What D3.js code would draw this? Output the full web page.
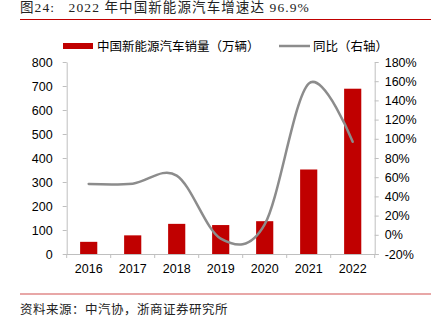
<!DOCTYPE html>
<html><head><meta charset="utf-8">
<script src="https://cdn.jsdelivr.net/npm/d3@7"></script>
<style>body{margin:0;background:#fff}svg{display:block}</style>
</head><body>
<svg id="c" width="431" height="325"></svg>
<script>
const categories = ["2016","2017","2018","2019","2020","2021","2022"];
const sales = [50.7, 77.7, 125.6, 120.6, 136.7, 352.1, 688.7];
const yoy = [53.0, 53.3, 61.7, -4.0, 10.9, 157.5, 96.9];
const leftTicks = [0,100,200,300,400,500,600,700,800];
const rightTicks = [-20,0,20,40,60,80,100,120,140,160,180];
const title = "图24:   2022 年中国新能源汽车增速达 96.9%";
const legendLabels = ["中国新能源汽车销量（万辆）", "同比（右轴）"];
const source = "资料来源：中汽协，浙商证券研究所";

const svg = d3.select("#c");
const L = 66.7, R = 374.7, T = 62, B = 254;
const sansCJK = "'Noto Sans CJK SC', 'Noto Sans', sans-serif";
const serif = "'Liberation Serif', 'Noto Sans CJK SC', serif";
const axisFont = "'Liberation Sans', Arial, sans-serif";

const x = d3.scaleBand().domain(categories).range([L, R]).paddingInner(0.61).paddingOuter(0.305);
const xb = d3.scaleBand().domain(categories).range([L, R]);
const yL = d3.scaleLinear().domain([0, 800]).range([B, T]);
const yR = d3.scaleLinear().domain([-20, 180]).range([B, T]);

// title
svg.append("text").attr("x", 20).attr("y", 12).attr("font-family", serif).attr("font-size", 13.5)
  .attr("fill", "#222").attr("letter-spacing", 1.1).attr("xml:space","preserve").text(title);
svg.append("line").attr("x1", 20).attr("x2", 431).attr("y1", 19.5).attr("y2", 19.5)
  .attr("stroke", "#c00000").attr("stroke-width", 1);

// bars
svg.append("g").selectAll("rect").data(categories).join("rect")
  .attr("x", d => x(d)).attr("width", x.bandwidth())
  .attr("y", (d,i) => yL(sales[i])).attr("height", (d,i) => yL(0) - yL(sales[i]))
  .attr("fill", "#c00000");

// axes
const axisColor = "#bfbfbf";
function styleAxis(g){
  g.select(".domain").attr("stroke", axisColor);
  g.selectAll(".tick line").attr("stroke", axisColor);
  g.selectAll(".tick text").attr("fill", "#000").attr("font-family", axisFont).attr("font-size", 12.5);
}
const gl = svg.append("g").attr("transform", `translate(${L},0)`)
  .call(d3.axisLeft(yL).tickValues(leftTicks).tickSize(4).tickSizeOuter(0).tickPadding(10));
styleAxis(gl);
const gr = svg.append("g").attr("transform", `translate(${R},0)`)
  .call(d3.axisRight(yR).tickValues(rightTicks).tickSize(4).tickSizeOuter(0).tickFormat(d => d + "%").tickPadding(6));
styleAxis(gr);
const gx = svg.append("g").attr("transform", `translate(0,${B})`)
  .call(d3.axisBottom(xb).tickSize(0).tickPadding(10));
styleAxis(gx);
gx.select(".domain").attr("d", `M${L},0.5H${R+4}`);
// category boundary ticks
gx.selectAll(".bt").data(categories.concat(["end"])).join("line").attr("class","bt")
  .attr("x1", (d,i) => i < categories.length ? xb(d) : R).attr("x2", (d,i) => i < categories.length ? xb(d) : R)
  .attr("y1", 0).attr("y2", 4).attr("stroke", axisColor);

// line
const line = d3.line().x((d,i) => x(categories[i]) + x.bandwidth()/2).y(d => yR(d))
  .curve(d3.curveCardinal.tension(0));
svg.append("path").datum(yoy).attr("d", line).attr("fill", "none")
  .attr("stroke", "#8c8c8c").attr("stroke-width", 2.5).attr("stroke-linecap","round");

// legend
const lg = svg.append("g");
lg.append("rect").attr("x", 63).attr("y", 43).attr("width", 30).attr("height", 6).attr("fill", "#c00000");
lg.append("text").attr("x", 97).attr("y", 51).attr("font-family", sansCJK).attr("font-size", 12.5).text(legendLabels[0]);
lg.append("line").attr("x1", 279).attr("x2", 310).attr("y1", 46).attr("y2", 46).attr("stroke", "#8c8c8c").attr("stroke-width", 2.5);
lg.append("text").attr("x", 313).attr("y", 51).attr("font-family", sansCJK).attr("font-size", 12.5).text(legendLabels[1]);

// footer
svg.append("line").attr("x1", 20).attr("x2", 431).attr("y1", 294).attr("y2", 294)
  .attr("stroke", "#e08a8a").attr("stroke-width", 1.5);
svg.append("text").attr("x", 20).attr("y", 314).attr("font-family", serif).attr("font-size", 12.5)
  .attr("fill", "#222").attr("letter-spacing", 0.5).text(source);
</script>
</body></html>
